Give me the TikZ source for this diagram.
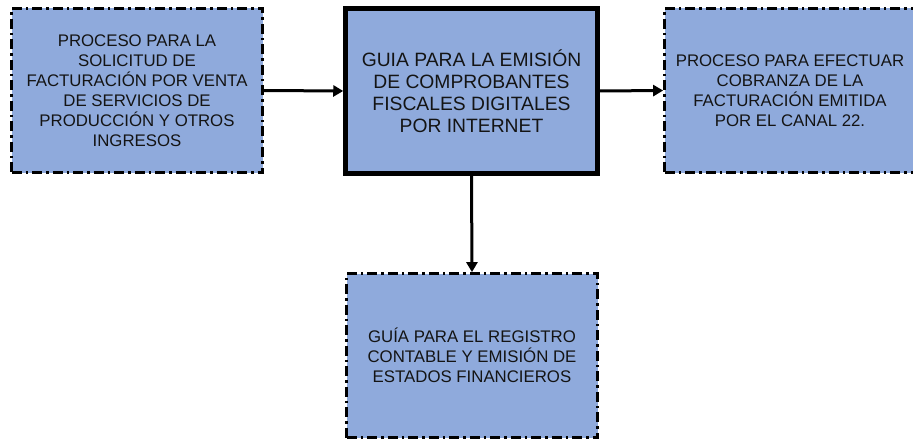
\documentclass[tikz,border=0pt]{standalone}
\usepackage{fontspec}
\setmainfont{Liberation Sans}
\usepackage{tikz}
\usetikzlibrary{arrows.meta,positioning}
\usepackage{xcolor}
\definecolor{boxblue}{RGB}{143,170,220}
\definecolor{textgray}{RGB}{20,20,20}

\begin{document}
\begin{tikzpicture}[x=1pt,y=1pt,
        procbox/.style={rectangle,draw=black,fill=boxblue,line width=2.7pt,
            dash pattern=on 10pt off 4pt on 2.5pt off 4pt,
            minimum width=251pt,minimum height=164pt,align=center,
            text=textgray,font=\fontsize{16.8}{20}\selectfont},
        mainbox/.style={rectangle,draw=black,fill=boxblue,line width=4.5pt,
            minimum width=252pt,minimum height=165pt,align=center,
            text=textgray,font=\fontsize{19.3}{22}\selectfont},
        flow/.style={line width=3pt,-{Triangle[length=10pt,width=11pt]}}]
        \useasboundingbox (0,0) rectangle (913,-441);

        % Central guide
        \node[mainbox] (guia) at (471.5,-91) {
            GUIA PARA LA EMISIÓN\\
            DE COMPROBANTES\\
            FISCALES DIGITALES\\
            POR INTERNET
        };

        % Related processes
        \node[procbox] (solicitud) at (137,-90.5) {
            PROCESO PARA LA\\
            SOLICITUD DE\\
            FACTURACIÓN POR VENTA\\
            DE SERVICIOS DE\\
            PRODUCCIÓN Y OTROS\\
            INGRESOS
        };

        \node[procbox] (cobranza) at (790,-90.5) {
            PROCESO PARA EFECTUAR\\
            COBRANZA DE LA\\
            FACTURACIÓN EMITIDA\\
            POR EL CANAL 22.
        };

        \node[procbox] (registro) at (472,-355.5) {
            GUÍA PARA EL REGISTRO\\
            CONTABLE Y EMISIÓN DE\\
            ESTADOS FINANCIEROS
        };

        % Connections
        \draw[flow] (solicitud.east) -- (guia.west);
        \draw[flow] (guia.east) -- (cobranza.west);
        \draw[flow] (guia.south) -- (registro.north);
    \end{tikzpicture}
\end{document}
